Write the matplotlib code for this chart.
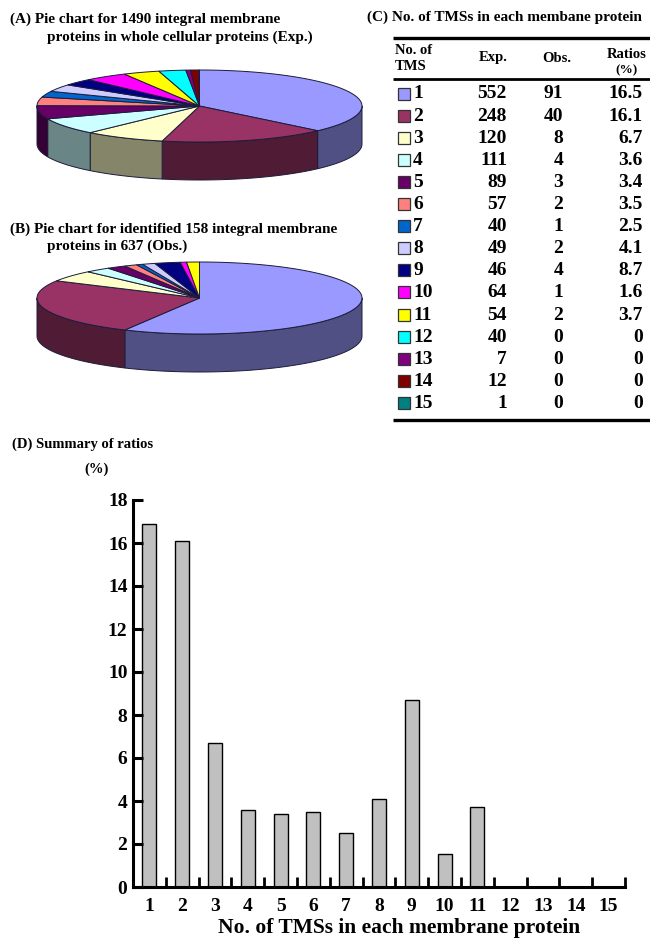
import matplotlib.pyplot as plt
import numpy as np
from matplotlib.patches import Polygon, Rectangle

plt.rcParams["font.family"] = ["Liberation Serif", "DejaVu Serif"]
plt.rcParams["font.weight"] = "bold"

# TMS classes and counts
tms_classes = list(range(1, 16))
exp_counts = [552, 248, 120, 111, 89, 57, 40, 49, 46, 64, 54, 40, 7, 12, 1]
obs_counts = [91, 40, 8, 4, 3, 2, 1, 2, 4, 1, 2, 0, 0, 0, 0]
ratios = [16.5, 16.1, 6.7, 3.6, 3.4, 3.5, 2.5, 4.1, 8.7, 1.6, 3.7, 0, 0, 0, 0]
bar_ratios = [16.9, 16.1, 6.7, 3.6, 3.4, 3.5, 2.5, 4.1, 8.7, 1.55, 3.7, 0, 0, 0, 0]
class_colors = [
    "#9999FF", "#993366", "#FFFFCC", "#CCFFFF", "#660066",
    "#FF8080", "#0066CC", "#CCCCFF", "#000080", "#FF00FF",
    "#FFFF00", "#00FFFF", "#800080", "#800000", "#008080",
]

W, H = 650, 939
fig = plt.figure(figsize=(W / 100, H / 100), dpi=100)
fig.patch.set_facecolor("white")

# pixel-space canvas for the pies and the table
ov = fig.add_axes([0, 0, 1, 1])
ov.set_xlim(0, W)
ov.set_ylim(H, 0)
ov.axis("off")

EDGE = "#1c1c3a"


def shade(color, k=0.52):
    r, g, b = plt.matplotlib.colors.to_rgb(color)
    return (r * k, g * k, b * k)


def pie3d(ax, values, colors, cx, cy, rx, ry, depth):
    vals = np.asarray(values, float)
    frac = np.cumsum(np.r_[0, vals]) / vals.sum()
    ang = np.pi / 2 - 2 * np.pi * frac  # clockwise from 12 o'clock

    def rim(t, dy=0):
        return np.column_stack([cx + rx * np.cos(t), cy - ry * np.sin(t) + dy])

    # visible side walls (front half only)
    for i, v in enumerate(vals):
        if v == 0:
            continue
        a0, a1 = ang[i], ang[i + 1]
        lo, hi = max(a1, -np.pi), min(a0, 0.0)
        if hi <= lo:
            continue
        t = np.linspace(hi, lo, max(int((hi - lo) * 80), 2))
        pts = np.vstack([rim(t), rim(t[::-1], depth)])
        ax.add_patch(Polygon(pts, closed=True, facecolor=shade(colors[i]),
                             edgecolor=EDGE, linewidth=0.7, zorder=2))
    # top faces
    for i, v in enumerate(vals):
        if v == 0:
            continue
        a0, a1 = ang[i], ang[i + 1]
        t = np.linspace(a0, a1, max(int((a0 - a1) * 80), 2))
        pts = np.vstack([[cx, cy], rim(t)])
        ax.add_patch(Polygon(pts, closed=True, facecolor=colors[i],
                             edgecolor=EDGE, linewidth=0.7, zorder=3))


TITLE_FS = 11
ov.text(10, 19, "(A) Pie chart for 1490 integral membrane", fontsize=TITLE_FS,
        va="center", ha="left")
ov.text(47, 37, "proteins in whole cellular proteins (Exp.)", fontsize=TITLE_FS,
        va="center", ha="left")
pie3d(ov, exp_counts, class_colors, 199.5, 106, 162.5, 36, 38)

ov.text(10, 229, "(B) Pie chart for identified 158 integral membrane",
        fontsize=TITLE_FS, va="center", ha="left")
ov.text(47, 246, "proteins in 637 (Obs.)", fontsize=TITLE_FS,
        va="center", ha="left")
pie3d(ov, obs_counts, class_colors, 199.5, 298, 162.5, 36, 38)

# table (C)
ov.text(367, 17, "(C) No. of TMSs in each membane protein", fontsize=TITLE_FS,
        va="center", ha="left")
ov.plot([393, 650], [38, 38], color="black", lw=2.4, solid_capstyle="butt")
ov.plot([393, 650], [79, 79], color="black", lw=2.0, solid_capstyle="butt")
ov.plot([393, 650], [420, 420], color="black", lw=2.4, solid_capstyle="butt")
HDR_FS = 10.5
ov.text(395, 51, "No. of", fontsize=HDR_FS, va="center", ha="left")
ov.text(395, 66, "TMS", fontsize=HDR_FS, va="center", ha="left")
ov.text(493, 58, "Exp.", fontsize=HDR_FS, va="center", ha="center")
ov.text(557, 58, "Obs.", fontsize=HDR_FS, va="center", ha="center")
ov.text(627, 55, "Ratios", fontsize=HDR_FS, va="center", ha="center")
ov.text(627, 70, "(%)", fontsize=HDR_FS - 1, va="center", ha="center")

ROW0, ROW_DY = 93, 22.1
CELL_FS = 14
for i, n in enumerate(tms_classes):
    y = ROW0 + i * ROW_DY
    ov.add_patch(Rectangle((398, y - 5.5), 12, 12, facecolor=class_colors[i],
                           edgecolor="#333333", linewidth=0.9))
    ov.text(413, y + 1, str(n), fontsize=CELL_FS, va="center", ha="left")
    ov.text(507, y + 1, str(exp_counts[i]), fontsize=CELL_FS, va="center", ha="right")
    ov.text(563, y + 1, str(obs_counts[i]), fontsize=CELL_FS, va="center", ha="right")
    r = ratios[i]
    ov.text(643, y + 1, "0" if r == 0 else f"{r:.1f}", fontsize=CELL_FS,
            va="center", ha="right")

# bar chart (D)
ov.text(12, 444, "(D) Summary of ratios", fontsize=10.5, va="center", ha="left")
ov.text(97, 469, "(%)", fontsize=10.5, va="center", ha="center")

ax = fig.add_axes([133 / W, (H - 887) / H, 492 / W, (887 - 500) / H])
ax.patch.set_alpha(0)
ax.bar(tms_classes, bar_ratios, width=0.43, color="#C0C0C0",
       edgecolor="black", linewidth=1.0)
ax.set_xlim(0.5, 15.5)
ax.set_ylim(0, 18)
for s in ("top", "right"):
    ax.spines[s].set_visible(False)
for s in ("left", "bottom"):
    ax.spines[s].set_linewidth(2.2)
ax.set_yticks(np.arange(0, 19, 2))
ax.tick_params(axis="y", direction="in", length=7, width=2.2, labelsize=14, pad=4)
ax.set_xticks(tms_classes)
ax.tick_params(axis="x", which="major", length=0, labelsize=14, pad=8)
ax.set_xticks(np.arange(1.5, 15.6, 1), minor=True)
ax.tick_params(axis="x", which="minor", direction="in", length=7, width=2.0)
fig.text(399 / W, (H - 928) / H, "No. of TMSs in each membrane protein",
         fontsize=15.5, ha="center", va="center")

fig.savefig("out.png", dpi=100, facecolor="white")
